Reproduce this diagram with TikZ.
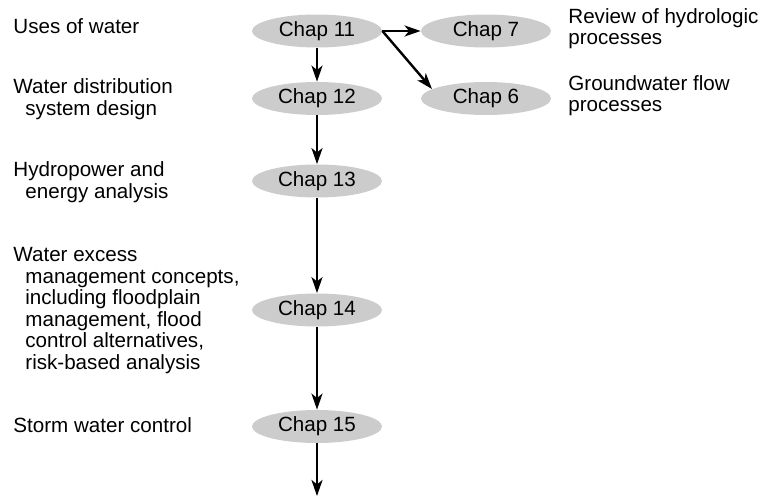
\documentclass[tikz,border=0pt]{standalone}
\usepackage{fontspec}
\setmainfont{Liberation Sans}
\usetikzlibrary{arrows.meta,positioning,shapes.geometric}

\begin{document}
\begin{tikzpicture}[x=0.5pt, y=-0.5pt,
  chap/.style={ellipse, fill=gray!40, draw=none, minimum width=65pt,
    minimum height=16.5pt, inner sep=0pt, font=\fontsize{10.3}{10.75}\selectfont},
  topic/.style={anchor=base west, align=left, inner sep=0pt,
    font=\fontsize{10.3}{10.75}\selectfont},
  ar/.style={-{Stealth[length=8pt,width=5.5pt,inset=2.2pt]}, line width=1.2pt},
]
\useasboundingbox (0,0) rectangle (767,498);

%--- Chapter ellipses ---
\node[chap] (c11) at (317, 31)   {Chap 11};
\node[chap] (c12) at (317, 98.5) {Chap 12};
\node[chap] (c13) at (317, 181)  {Chap 13};
\node[chap] (c14) at (317, 310)  {Chap 14};
\node[chap] (c15) at (317, 426.5){Chap 15};
\node[chap] (c7)  at (486, 31)   {Chap 7};
\node[chap] (c6)  at (486, 98.5) {Chap 6};
\coordinate (cend) at (317, 496);

%--- Topics on the left (placed by their last line) ---
\node[topic] (t11) at (13, 33)  {Uses of water};
\node[topic] (t12) at (13, 115) {Water distribution\\\hspace*{6pt}system design};
\node[topic] (t13) at (13, 198) {Hydropower and\\\hspace*{6pt}energy analysis};
\node[topic] (t14) at (13, 369) {Water excess\\\hspace*{6pt}management concepts,\\
  \hspace*{6pt}including floodplain\\\hspace*{6pt}management, flood\\
  \hspace*{6pt}control alternatives,\\\hspace*{6pt}risk-based analysis};
\node[topic] (t15) at (13, 432) {Storm water control};

%--- Topics on the right ---
\node[topic] (t7) at (568, 45)  {Review of hydrologic\\processes};
\node[topic] (t6) at (568, 112) {Groundwater flow\\processes};

%--- Arrows ---
\draw[ar] (c11.east) -- (c7.west);
\draw[ar] (c11.east) -- (c6.170);
\draw[ar] (c11) -- (c12);
\draw[ar] (c12) -- (c13);
\draw[ar] (c13) -- (c14);
\draw[ar] (c14) -- (c15);
\draw[ar] (c15) -- (cend);

\end{tikzpicture}
\end{document}
